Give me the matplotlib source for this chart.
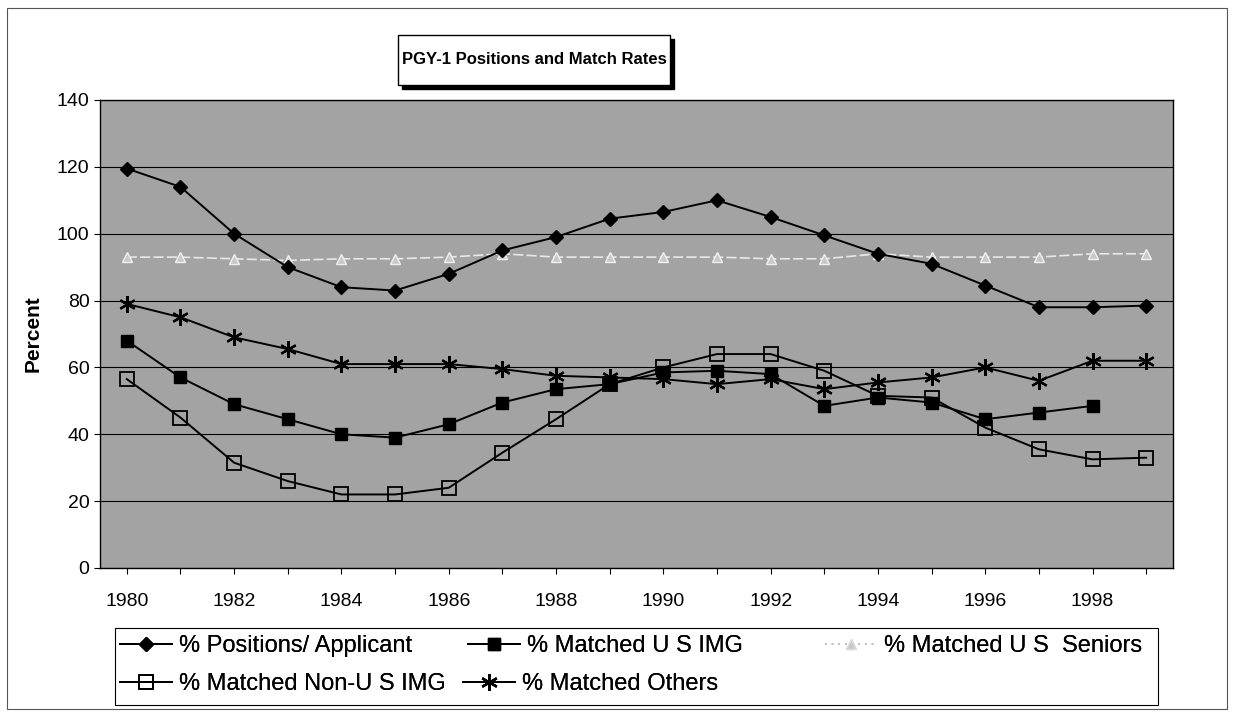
import matplotlib
matplotlib.use("Agg")
import matplotlib.pyplot as plt
from matplotlib.patches import Rectangle
from matplotlib.lines import Line2D

plt.rcParams['font.family'] = ['Liberation Sans', 'DejaVu Sans']

years = list(range(1980, 2000))
positions_per_applicant = [119.5, 114, 100, 90, 84, 83, 88, 95, 99, 104.5, 106.5, 110, 105, 99.5, 94, 91, 84.5, 78, 78, 78.5]
matched_us_img = [68, 57, 49, 44.5, 40, 39, 43, 49.5, 53.5, 55, 58.5, 59, 58, 48.5, 51, 49.5, 44.5, 46.5, 48.5]
matched_us_seniors = [93, 93, 92.5, 92, 92.5, 92.5, 93, 94, 93, 93, 93, 93, 92.5, 92.5, 94, 93, 93, 93, 94, 94]
matched_non_us_img = [56.5, 45, 31.5, 26, 22, 22, 24, 34.5, 44.5, 55, 60, 64, 64, 59, 51.5, 51, 42, 35.5, 32.5, 33]
matched_others = [79, 75, 69, 65.5, 61, 61, 61, 59.5, 57.5, 57, 56.5, 55, 56.5, 53.5, 55.5, 57, 60, 56, 62, 62]

labels = ['% Positions/ Applicant', '% Matched U S IMG', '% Matched U S  Seniors',
          '% Matched Non-U S IMG', '% Matched Others']
yticks = [0, 20, 40, 60, 80, 100, 120, 140]
xtick_labels = list(range(1980, 2000, 2))

fig = plt.figure(figsize=(12.35, 7.17), dpi=100)
W, H = 1235, 717
ax = fig.add_axes([100 / W, 1 - 568 / H, (1173 - 100) / W, (568 - 100) / H])
ax.set_facecolor('#a3a3a3')

h_sen, = ax.plot(years, matched_us_seniors, color='#e8e8e8', lw=1.2, ls=(0, (6, 2)),
                 marker='^', ms=7, mfc='#c8c8c8', mec='#f0f0f0', zorder=3)
h_pos, = ax.plot(years, positions_per_applicant, color='black', lw=1.4, marker='D', ms=7.5,
                 mfc='black', mec='black', zorder=4)
h_img, = ax.plot(years[:len(matched_us_img)], matched_us_img, color='black', lw=1.4, marker='s',
                 ms=9, mfc='black', mec='black', zorder=4)
h_non, = ax.plot(years, matched_non_us_img, color='black', lw=1.4, marker='s', ms=10,
                 mfc='none', mec='black', mew=1.3, zorder=4)
h_oth, = ax.plot(years, matched_others, color='black', lw=1.4, marker=(6, 2, 0), ms=12,
                 mec='black', mew=1.6, zorder=4)

ax.set_xlim(1979.5, 1999.5)
ax.set_ylim(0, 140)
ax.set_yticks(yticks)
ax.set_xticks(years)
ax.set_xticklabels([str(y) if y in xtick_labels else '' for y in years])
ax.tick_params(axis='both', labelsize=14, direction='out', length=4, width=0.8)
ax.tick_params(axis='x', pad=14)
ax.grid(axis='y', color='black', lw=0.8)
ax.set_axisbelow(True)
for s in ax.spines.values():
    s.set_linewidth(1.0)
ax.set_ylabel('Percent', fontsize=15, fontweight='bold', labelpad=10)

# Title box with shadow
fig.patches.append(Rectangle((402 / W, 1 - 89 / H), 272 / W, 50 / H, transform=fig.transFigure,
                             facecolor='black', edgecolor='black', zorder=1))
fig.patches.append(Rectangle((398 / W, 1 - 85 / H), 272 / W, 50 / H, transform=fig.transFigure,
                             facecolor='white', edgecolor='black', lw=1, zorder=2))
fig.text(534 / W, 1 - 60 / H, 'PGY-1 Positions and Match Rates', ha='center', va='center',
         fontsize=12, fontweight='bold', zorder=5)

# Outer frame
fig.patches.append(Rectangle((7 / W, 1 - 709 / H), 1220 / W, 701 / H, transform=fig.transFigure,
                             facecolor='none', edgecolor='#555555', lw=0.8))

# Legend box and entries
fig.patches.append(Rectangle((115 / W, 1 - 705 / H), 1043 / W, 77 / H, transform=fig.transFigure,
                             facecolor='white', edgecolor='black', lw=0.8))
sen_handle = Line2D([], [], color='#bbbbbb', lw=1.2, ls=(0, (1, 3)), marker='^', ms=7,
                    mfc='#c8c8c8', mec='#dddddd')
entries = [
    (h_pos, labels[0], 120, 646),
    (h_img, labels[1], 468, 646),
    (sen_handle, labels[2], 825, 646),
    (h_non, labels[3], 120, 684),
    (h_oth, labels[4], 463, 684),
]
for h, lab, x, y in entries:
    lg = fig.legend([h], [lab], loc='center left', bbox_to_anchor=(x / W, 1 - y / H),
                    frameon=False, fontsize=17, handlelength=2.2, handletextpad=0.3,
                    borderaxespad=0, borderpad=0)
    fig.add_artist(lg)

fig.savefig('out.png', dpi=100)
